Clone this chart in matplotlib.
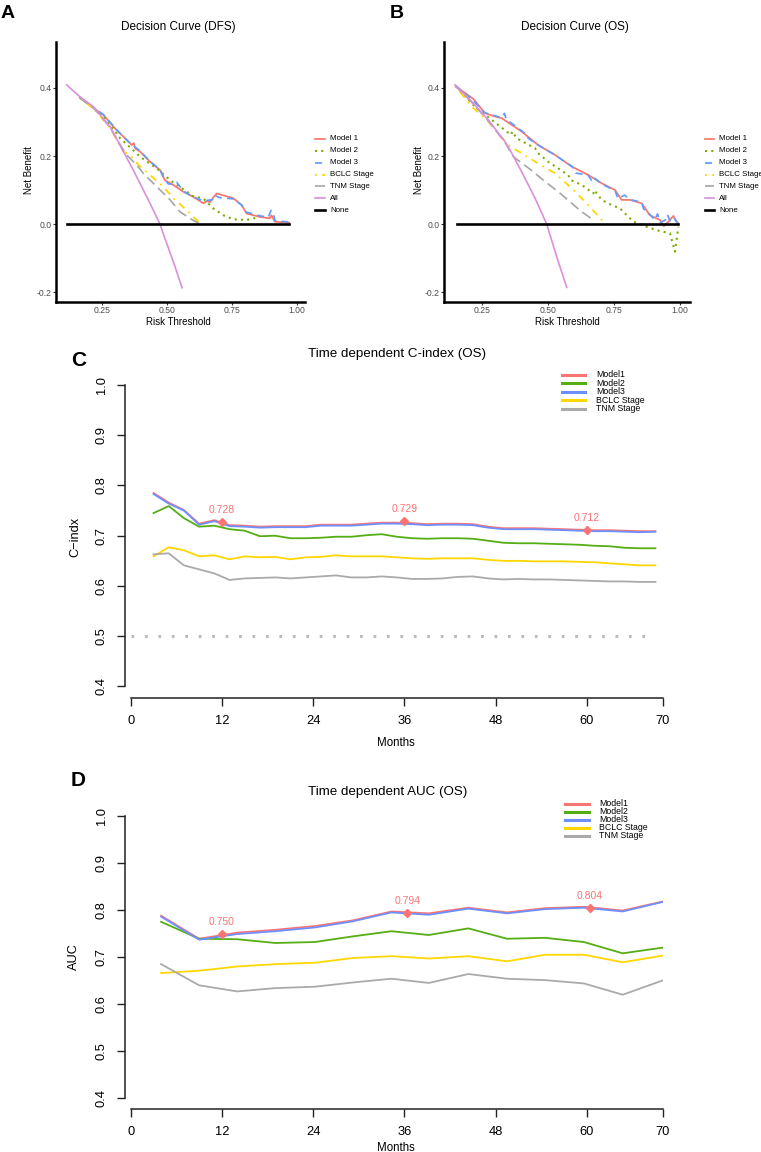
import numpy as np
import matplotlib.pyplot as plt
from matplotlib.lines import Line2D

plt.rcParams['font.family'] = ['Liberation Sans', 'DejaVu Sans']

# ---------------- panel A: decision curve (DFS) ----------------
a_m1_x = [0.165, 0.210, 0.255, 0.306, 0.355, 0.365, 0.372, 0.378, 0.396, 0.435, 0.473, 0.492, 0.524, 0.563,
          0.601, 0.640, 0.655, 0.665, 0.680, 0.691, 0.755, 0.787, 0.806, 0.858, 0.896, 0.902, 0.915, 0.970]
a_m1_y = [0.372, 0.345, 0.321, 0.276, 0.240, 0.232, 0.238, 0.222, 0.213, 0.183, 0.159, 0.129, 0.115, 0.095,
          0.080, 0.061, 0.068, 0.064, 0.080, 0.090, 0.076, 0.056, 0.031, 0.021, 0.017, 0.026, 0.007, 0.004]
a_m2_x = [0.165, 0.255, 0.306, 0.313, 0.383, 0.396, 0.460, 0.512, 0.601, 0.640, 0.678, 0.717, 0.755, 0.806, 0.858]
a_m2_y = [0.372, 0.318, 0.267, 0.257, 0.208, 0.198, 0.164, 0.129, 0.082, 0.075, 0.046, 0.026, 0.014, 0.012, 0.021]
a_m3_x = [0.165, 0.210, 0.255, 0.306, 0.358, 0.378, 0.396, 0.435, 0.473, 0.492, 0.505, 0.524, 0.537, 0.545, 0.563,
          0.601, 0.640, 0.659, 0.675, 0.683, 0.700, 0.755, 0.787, 0.806, 0.858, 0.890, 0.900, 0.910, 0.915, 0.970]
a_m3_y = [0.372, 0.346, 0.322, 0.277, 0.237, 0.226, 0.215, 0.184, 0.160, 0.130, 0.118, 0.117, 0.123, 0.115, 0.097,
          0.080, 0.068, 0.070, 0.072, 0.085, 0.078, 0.074, 0.056, 0.035, 0.024, 0.020, 0.040, 0.030, 0.010, 0.006]
a_bclc_x = [0.165, 0.217, 0.281, 0.332, 0.358, 0.390, 0.435, 0.486, 0.524, 0.576, 0.627]
a_bclc_y = [0.370, 0.340, 0.283, 0.213, 0.203, 0.174, 0.144, 0.110, 0.076, 0.041, 0.002]
a_tnm_x = [0.165, 0.217, 0.281, 0.332, 0.345, 0.383, 0.409, 0.447, 0.512, 0.550, 0.588, 0.633]
a_tnm_y = [0.370, 0.342, 0.284, 0.218, 0.203, 0.174, 0.149, 0.120, 0.071, 0.036, 0.017, -0.003]
a_all_x = [0.114, 0.165, 0.217, 0.281, 0.319, 0.370, 0.409, 0.441, 0.473, 0.492, 0.526, 0.558]
a_all_y = [0.409, 0.374, 0.345, 0.286, 0.232, 0.159, 0.100, 0.051, 0.000, -0.042, -0.114, -0.187]
a_none_x = [0.114, 0.970]
a_none_y = [0.0, 0.0]

# ---------------- panel B: decision curve (OS) ----------------
b_m1_x = [0.150, 0.217, 0.261, 0.300, 0.325, 0.400, 0.463, 0.527, 0.590, 0.653, 0.703, 0.754, 0.779, 0.811,
          0.855, 0.886, 0.924, 0.939, 0.956, 0.975, 0.990]
b_m1_y = [0.405, 0.368, 0.326, 0.316, 0.311, 0.272, 0.232, 0.203, 0.169, 0.144, 0.120, 0.100, 0.071, 0.071,
          0.061, 0.026, 0.012, -0.006, 0.007, 0.024, 0.002]
b_m2_x = [0.150, 0.223, 0.287, 0.337, 0.360, 0.365, 0.381, 0.451, 0.460, 0.501, 0.577, 0.585, 0.628, 0.672,
          0.676, 0.703, 0.741, 0.773, 0.823, 0.874, 0.912, 0.962, 0.981, 0.994]
b_m2_y = [0.405, 0.345, 0.306, 0.276, 0.262, 0.272, 0.252, 0.223, 0.210, 0.183, 0.144, 0.130, 0.115, 0.090,
          0.100, 0.071, 0.056, 0.046, 0.007, -0.008, -0.018, -0.027, -0.081, -0.008]
b_m3_x = [0.150, 0.211, 0.261, 0.300, 0.325, 0.335, 0.342, 0.400, 0.420, 0.425, 0.463, 0.527, 0.560, 0.590,
          0.600, 0.605, 0.653, 0.665, 0.672, 0.703, 0.754, 0.765, 0.790, 0.811, 0.855, 0.862, 0.886, 0.905,
          0.915, 0.925, 0.945, 0.952, 0.962, 0.975, 0.995]
b_m3_y = [0.407, 0.367, 0.327, 0.318, 0.312, 0.325, 0.308, 0.274, 0.262, 0.252, 0.232, 0.203, 0.185, 0.170,
          0.160, 0.150, 0.143, 0.128, 0.138, 0.118, 0.098, 0.075, 0.085, 0.072, 0.064, 0.045, 0.028, 0.012,
          0.030, 0.005, 0.012, 0.028, 0.010, 0.020, 0.000]
b_bclc_x = [0.150, 0.211, 0.274, 0.350, 0.400, 0.463, 0.527, 0.590, 0.653, 0.709]
b_bclc_y = [0.405, 0.345, 0.301, 0.232, 0.208, 0.178, 0.149, 0.105, 0.056, 0.007]
b_tnm_x = [0.150, 0.211, 0.274, 0.337, 0.369, 0.444, 0.482, 0.539, 0.590, 0.628, 0.672]
b_tnm_y = [0.405, 0.358, 0.303, 0.240, 0.198, 0.154, 0.129, 0.095, 0.061, 0.036, 0.012]
b_all_x = [0.148, 0.211, 0.274, 0.337, 0.356, 0.400, 0.451, 0.495, 0.533, 0.571]
b_all_y = [0.409, 0.360, 0.306, 0.242, 0.218, 0.154, 0.076, 0.000, -0.096, -0.186]
b_none_x = [0.154, 0.994]
b_none_y = [0.0, 0.0]

dca_labels = ['Model 1', 'Model 2', 'Model 3', 'BCLC Stage', 'TNM Stage', 'All', 'None']
dca_ticks_x = [0.25, 0.50, 0.75, 1.00]
dca_ticks_y = [-0.2, 0.0, 0.2, 0.4]

# ---------------- panel C: time dependent C-index ----------------
c_months = list(range(3, 70, 2))
c_model1 = [0.785, 0.766, 0.751, 0.724, 0.731, 0.721, 0.720, 0.718, 0.719, 0.719, 0.719, 0.722, 0.722, 0.722,
            0.724, 0.726, 0.726, 0.725, 0.723, 0.724, 0.724, 0.723, 0.718, 0.715, 0.715, 0.715, 0.714, 0.713,
            0.712, 0.711, 0.711, 0.710, 0.709, 0.709]
c_model2 = [0.745, 0.759, 0.735, 0.718, 0.720, 0.713, 0.710, 0.699, 0.700, 0.695, 0.695, 0.696, 0.698, 0.698,
            0.701, 0.703, 0.698, 0.695, 0.694, 0.695, 0.695, 0.694, 0.690, 0.686, 0.685, 0.685, 0.684, 0.683,
            0.682, 0.680, 0.679, 0.676, 0.675, 0.675]
c_model3 = [0.783, 0.764, 0.750, 0.722, 0.729, 0.719, 0.718, 0.716, 0.717, 0.717, 0.717, 0.720, 0.720, 0.720,
            0.722, 0.724, 0.724, 0.723, 0.721, 0.722, 0.722, 0.721, 0.716, 0.713, 0.713, 0.713, 0.712, 0.711,
            0.710, 0.709, 0.709, 0.708, 0.707, 0.708]
c_bclc = [0.659, 0.677, 0.671, 0.659, 0.661, 0.653, 0.659, 0.657, 0.658, 0.653, 0.657, 0.658, 0.661, 0.659,
          0.659, 0.659, 0.657, 0.655, 0.654, 0.655, 0.655, 0.655, 0.652, 0.650, 0.650, 0.649, 0.649, 0.649,
          0.648, 0.647, 0.645, 0.643, 0.641, 0.641]
c_tnm = [0.663, 0.665, 0.641, 0.633, 0.625, 0.612, 0.615, 0.616, 0.617, 0.615, 0.617, 0.619, 0.621, 0.617,
         0.617, 0.619, 0.617, 0.614, 0.614, 0.615, 0.618, 0.619, 0.615, 0.613, 0.614, 0.613, 0.613, 0.612,
         0.611, 0.610, 0.609, 0.609, 0.608, 0.608]
c_mark_months = [12, 36, 60]
c_mark_values = [0.728, 0.729, 0.712]
c_ref_level = 0.5
c_ref_range = [0, 69]

# ---------------- panel D: time dependent AUC ----------------
d_months = [4.0, 9.0, 14.0, 19.0, 24.2, 29.2, 34.3, 39.2, 44.4, 49.5, 54.5, 59.6, 64.7, 69.9]
d_model1 = [0.788, 0.739, 0.752, 0.758, 0.766, 0.778, 0.797, 0.793, 0.805, 0.795, 0.804, 0.807, 0.799, 0.818]
d_model2 = [0.775, 0.739, 0.738, 0.730, 0.732, 0.744, 0.755, 0.747, 0.761, 0.739, 0.741, 0.732, 0.708, 0.720]
d_model3 = [0.786, 0.737, 0.749, 0.755, 0.763, 0.776, 0.795, 0.790, 0.803, 0.793, 0.802, 0.805, 0.797, 0.817]
d_bclc = [0.666, 0.671, 0.680, 0.685, 0.688, 0.698, 0.702, 0.697, 0.702, 0.691, 0.705, 0.705, 0.689, 0.703]
d_tnm = [0.685, 0.640, 0.627, 0.634, 0.637, 0.646, 0.654, 0.645, 0.664, 0.654, 0.651, 0.644, 0.620, 0.650]
d_mark_months = [12.0, 36.4, 60.4]
d_mark_values = [0.750, 0.794, 0.804]

td_labels = ['Model1', 'Model2', 'Model3', 'BCLC Stage', 'TNM Stage']
td_months_ticks = [0, 12, 24, 36, 48, 60, 70]
td_ticks_y = [0.4, 0.5, 0.6, 0.7, 0.8, 0.9, 1.0]

# styles
dca_styles = [('#F8766D', '-', 1.25), ('#7CAE00', (0, (1, 2)), 1.5), ('#619CFF', (0, (4, 3)), 1.25),
              ('#FFD700', (0, (1, 3, 4, 3)), 1.3), ('#A6A6A6', (0, (6, 3)), 1.2), ('#DA8FDA', '-', 1.2),
              ('black', '-', 1.9)]
td_colors = ['#FB7474', '#55AE14', '#6D8FFF', '#FFD700', '#AAAAAA']

W, H = 761, 1152
fig = plt.figure(figsize=(W / 100, H / 100), dpi=100)


def px_axes(left, top, right, bottom):
    return fig.add_axes([left / W, 1 - bottom / H, (right - left) / W, (bottom - top) / H])


def ftext(x, y, s, **kw):
    fig.text(x / W, 1 - y / H, s, **kw)


def draw_key(x0, x1, xt, y0, dy, labels, styles, fs):
    for i, (lab, (col, ls, lw)) in enumerate(zip(labels, styles)):
        y = 1 - (y0 + i * dy) / H
        fig.add_artist(Line2D([x0 / W, x1 / W], [y, y], transform=fig.transFigure,
                              color=col, linestyle=ls, linewidth=lw))
        fig.text(xt / W, y, lab, fontsize=fs, va='center', ha='left')


def decision_panel(ax, curves, xlim):
    for (xs, ys), (col, ls, lw) in zip(curves, dca_styles):
        ax.plot(xs, ys, color=col, linestyle=ls, linewidth=lw)
    ax.set_xlim(xlim)
    ax.set_ylim(-0.229, 0.535)
    ax.set_xticks(dca_ticks_x)
    ax.set_xticklabels(['0.25', '0.50', '0.75', '1.00'])
    ax.set_yticks(dca_ticks_y)
    ax.set_yticklabels(['-0.2', '0.0', '0.2', '0.4'])
    for s in ['top', 'right']:
        ax.spines[s].set_visible(False)
    for s in ['left', 'bottom']:
        ax.spines[s].set_linewidth(1.8)
    ax.tick_params(length=2.0, width=0.8, color='#333333', labelsize=6.2, labelcolor='#4D4D4D', pad=1)


ax_a = px_axes(56, 42, 305, 302)
decision_panel(ax_a, [(a_m1_x, a_m1_y), (a_m2_x, a_m2_y), (a_m3_x, a_m3_y), (a_bclc_x, a_bclc_y),
                      (a_tnm_x, a_tnm_y), (a_all_x, a_all_y), (a_none_x, a_none_y)], (0.073, 1.031))
ax_b = px_axes(444, 42, 690, 302)
decision_panel(ax_b, [(b_m1_x, b_m1_y), (b_m2_x, b_m2_y), (b_m3_x, b_m3_y), (b_bclc_x, b_bclc_y),
                      (b_tnm_x, b_tnm_y), (b_all_x, b_all_y), (b_none_x, b_none_y)], (0.106, 1.038))

ftext(178, 27, 'Decision Curve (DFS)', fontsize=8.5, ha='center', va='center')
ftext(575, 27, 'Decision Curve (OS)', fontsize=8.5, ha='center', va='center')
ftext(178, 322, 'Risk Threshold', fontsize=7.0, ha='center', va='center')
ftext(567, 322, 'Risk Threshold', fontsize=7.0, ha='center', va='center')
ftext(29, 170, 'Net Benefit', fontsize=7.0, ha='center', va='center', rotation=90)
ftext(419, 170, 'Net Benefit', fontsize=7.0, ha='center', va='center', rotation=90)
draw_key(315, 325, 330, 139, 11.85, dca_labels, dca_styles, 5.7)
draw_key(705, 714, 719, 139, 11.85, dca_labels, dca_styles, 5.7)


def td_panel(ax, months, series, mark_x, mark_y):
    for ys, col in zip(series, td_colors):
        ax.plot(months, ys, color=col, linewidth=1.3)
    ax.plot(mark_x, mark_y, linestyle='none', marker='D', markersize=4.2, color=td_colors[0])
    for mx, my in zip(mark_x, mark_y):
        ax.annotate(f'{my:.3f}', (mx, my), xytext=(0, 5), textcoords='offset points',
                    ha='center', va='bottom', fontsize=7.5, color=td_colors[0])
    ax.set_xlim(-0.75, 70)
    ax.set_ylim(0.377, 1.0)
    ax.set_xticks(td_months_ticks)
    ax.set_yticks(td_ticks_y)
    ax.set_yticklabels([f'{v:.1f}' for v in td_ticks_y], rotation=90, va='center')
    for s in ['top', 'right']:
        ax.spines[s].set_visible(False)
    ax.spines['left'].set_bounds(0.4, 1.0)
    ax.spines['bottom'].set_bounds(0, 70)
    for s in ['left', 'bottom']:
        ax.spines[s].set_linewidth(1.1)
        ax.spines[s].set_color('#222222')
    ax.tick_params(length=5.5, width=1.0, color='#222222', labelsize=9.3, pad=7)


ax_c = px_axes(125, 385, 663, 698)
ax_c.plot(c_ref_range, [c_ref_level, c_ref_level], color='#BBBBBB', linewidth=2.2,
          linestyle=(0, (0.9, 3.5)))
td_panel(ax_c, c_months, [c_model1, c_model2, c_model3, c_bclc, c_tnm], c_mark_months, c_mark_values)

ax_d = px_axes(125, 816, 663, 1109)
td_panel(ax_d, d_months, [d_model1, d_model2, d_model3, d_bclc, d_tnm], d_mark_months, d_mark_values)

ftext(308, 354, 'Time dependent C-index (OS)', fontsize=9.6, ha='left', va='center')
ftext(308, 792, 'Time dependent AUC (OS)', fontsize=9.6, ha='left', va='center')
ftext(396, 743, 'Months', fontsize=8.3, ha='center', va='center')
ftext(396, 1148, 'Months', fontsize=8.3, ha='center', va='center')
ftext(75, 537, 'C\u2212indx', fontsize=9.2, ha='center', va='center', rotation=90)
ftext(74, 957, 'AUC', fontsize=9.2, ha='center', va='center', rotation=90)

td_styles = [(c, '-', 2.2) for c in td_colors]
draw_key(562, 585, 596, 375, 8.4, td_labels, td_styles, 6.3)
draw_key(565, 589, 599, 804, 7.9, td_labels, td_styles, 6.3)

# panel letters
ftext(8, 14, 'A', fontsize=14, fontweight='bold', ha='center', va='center')
ftext(397, 14, 'B', fontsize=14, fontweight='bold', ha='center', va='center')
ftext(79, 361, 'C', fontsize=15, fontweight='bold', ha='center', va='center')
ftext(78, 780, 'D', fontsize=15, fontweight='bold', ha='center', va='center')

fig.savefig('out.png', dpi=100)
